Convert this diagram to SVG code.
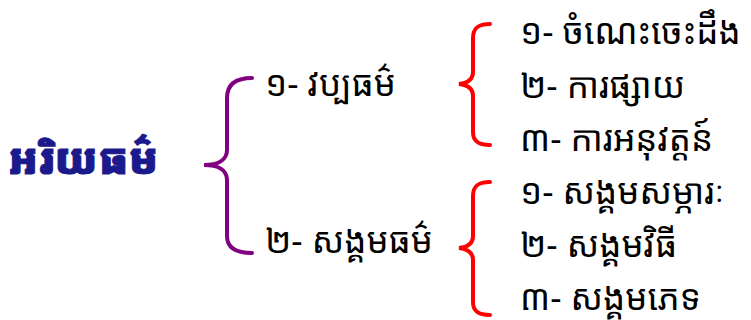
<svg xmlns="http://www.w3.org/2000/svg" width="751" height="320" viewBox="0 0 751 320">
<style>
.t{font-family:"Noto Sans Khmer","Khmer OS","Noto Sans","DejaVu Sans",sans-serif;font-size:35px;fill:#000}
.title{font-family:"Noto Sans Khmer","Khmer OS Muol Light","Noto Sans","DejaVu Sans",sans-serif;font-size:42px;font-weight:900;fill:#1a1a8c;stroke:#1a1a8c;stroke-width:1}
.bp{fill:none;stroke:#800080;stroke-width:4;stroke-linecap:round}
.br{fill:none;stroke:#ff0000;stroke-width:4;stroke-linecap:round}
</style>
<rect width="751" height="320" fill="#fff"/>
<g id="connectors">
<path class="bp" d="M252,78 C236,78 227,84 227,98 L227,150 C227,160 218,165 204,165 C218,165 227,170 227,180 L227,236 C227,248 236,253 252,253"/>
<path class="br" d="M490,24 C478,24 473,28 473,38 L473,72 C473,79 468,83 459,84 C468,85 473,89 473,96 L473,132 C473,141 478,145 490,145"/>
<path class="br" d="M490,182 C478,182 473,186 473,196 L473,236 C473,243 468,247 459,248 C468,249 473,253 473,260 L473,302 C473,311 478,315 490,315"/>
</g>
<g id="root"><text class="title" x="8" y="174">អរិយធម៌</text></g>
<g id="n1"><text class="t" x="265" y="96">១- វប្បធម៌</text></g>
<g id="n2"><text class="t" x="265" y="253">២- សង្គមធម៌</text></g>
<g id="n11"><text class="t" x="520" y="44">១- ចំណេះចេះដឹង</text></g>
<g id="n12"><text class="t" x="520" y="98">២- ការផ្សាយ</text></g>
<g id="n13"><text class="t" x="520" y="151">៣- ការអនុវត្តន៍</text></g>
<g id="n21"><text class="t" x="520" y="204">១- សង្គមសម្ភារៈ</text></g>
<g id="n22"><text class="t" x="520" y="257">២- សង្គមវិធី</text></g>
<g id="n23"><text class="t" x="520" y="310">៣- សង្គមភេទ</text></g>
</svg>
